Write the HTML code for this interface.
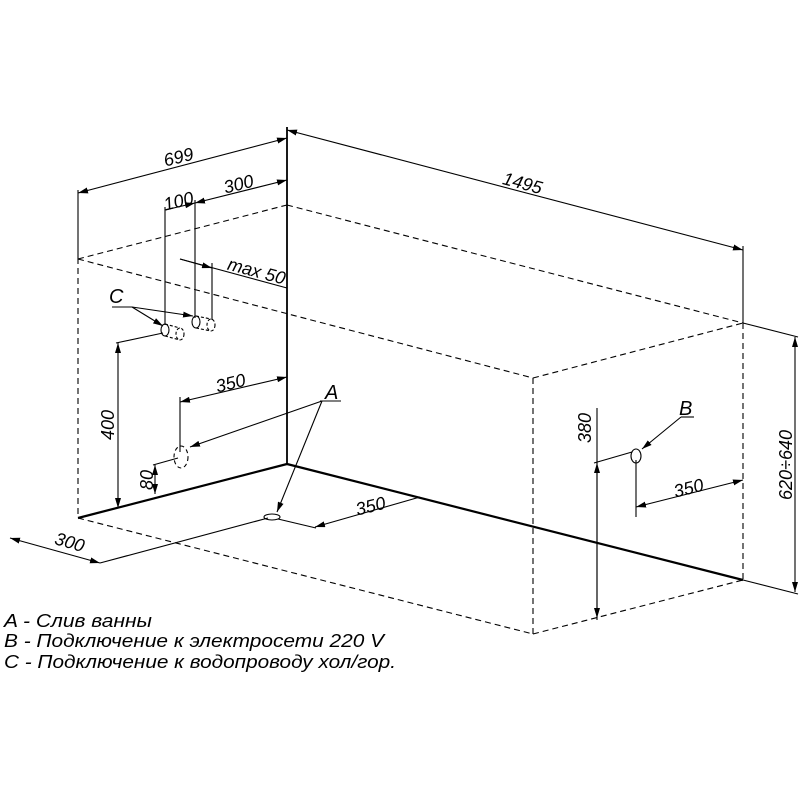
<!DOCTYPE html>
<html><head><meta charset="utf-8"><style>
html,body{margin:0;padding:0;background:#fff;}
svg{display:block;}
text{font-family:"Liberation Sans",sans-serif;font-style:italic;fill:#000;}
</style></head><body>
<svg width="800" height="800" viewBox="0 0 800 800" xmlns="http://www.w3.org/2000/svg">
<defs>
<marker id="a" viewBox="0 0 10 6" refX="10" refY="3" markerWidth="10" markerHeight="6" markerUnits="userSpaceOnUse" orient="auto-start-reverse"><path d="M0,0 L10,3 L0,6 z" fill="#000"/></marker>
</defs>
<g stroke="#000" fill="none" stroke-width="1.1">
<line x1="287" y1="127" x2="287" y2="464" stroke-width="1.8"/>
<line x1="78" y1="518" x2="287" y2="464" stroke-width="2.2"/>
<line x1="287" y1="464" x2="743" y2="580" stroke-width="2.2"/>
<line x1="743" y1="580" x2="798" y2="594"/>
<line x1="743" y1="323" x2="798" y2="337"/>
<line x1="78" y1="190" x2="78" y2="258"/>
<line x1="743" y1="246" x2="743" y2="323"/>
<g stroke-dasharray="6,4">
<line x1="78" y1="258" x2="78" y2="518"/>
<line x1="78" y1="259" x2="287" y2="205"/>
<line x1="287" y1="205" x2="743" y2="323"/>
<line x1="78" y1="259" x2="533" y2="378"/>
<line x1="533" y1="378" x2="743" y2="323"/>
<line x1="533" y1="378" x2="533" y2="634"/>
<line x1="533" y1="634" x2="743" y2="580"/>
<line x1="78" y1="518" x2="533" y2="634"/>
<line x1="743" y1="323" x2="743" y2="580"/>
</g>
<line x1="287" y1="130" x2="743" y2="250" marker-start="url(#a)" marker-end="url(#a)"/>
<line x1="78" y1="193" x2="287" y2="138" marker-start="url(#a)" marker-end="url(#a)"/>
<line x1="195" y1="203" x2="287" y2="180" marker-start="url(#a)" marker-end="url(#a)"/>
<line x1="165" y1="210" x2="195" y2="203" marker-end="url(#a)"/>
<line x1="165" y1="207" x2="165" y2="325"/>
<line x1="195" y1="200" x2="195" y2="318"/>
<line x1="212" y1="263" x2="212" y2="320"/>
<line x1="180" y1="259" x2="287" y2="288"/>
<line x1="180" y1="259" x2="212" y2="268" marker-end="url(#a)"/>
<line x1="112" y1="307" x2="132" y2="307"/>
<line x1="132" y1="307" x2="163" y2="326" marker-end="url(#a)"/>
<line x1="132" y1="307" x2="193" y2="316" marker-end="url(#a)"/>
<ellipse cx="165" cy="330" rx="4" ry="6"/>
<ellipse cx="180" cy="334" rx="4" ry="6" stroke-dasharray="3,2"/>
<line x1="165" y1="324" x2="180" y2="328" stroke-dasharray="3,2"/>
<line x1="165" y1="336" x2="180" y2="340" stroke-dasharray="3,2"/>
<ellipse cx="196" cy="322" rx="4" ry="6"/>
<ellipse cx="211" cy="325" rx="4" ry="6" stroke-dasharray="3,2"/>
<line x1="196" y1="316" x2="211" y2="319" stroke-dasharray="3,2"/>
<line x1="196" y1="328" x2="211" y2="331" stroke-dasharray="3,2"/>
<line x1="116" y1="343" x2="163" y2="333"/>
<line x1="118" y1="343" x2="118" y2="508" marker-start="url(#a)" marker-end="url(#a)"/>
<line x1="180" y1="402" x2="287" y2="377" marker-start="url(#a)" marker-end="url(#a)"/>
<line x1="180" y1="397" x2="180" y2="452"/>
<ellipse cx="181" cy="457" rx="7" ry="11" stroke-dasharray="4,3"/>
<line x1="153" y1="465" x2="178" y2="458"/>
<line x1="155" y1="465" x2="155" y2="494" marker-start="url(#a)" marker-end="url(#a)"/>
<line x1="320" y1="401" x2="341" y2="401"/>
<line x1="322" y1="401" x2="190" y2="447" marker-end="url(#a)"/>
<line x1="322" y1="401" x2="277" y2="512" marker-end="url(#a)"/>
<ellipse cx="272" cy="517" rx="8" ry="3"/>
<line x1="278" y1="519" x2="316" y2="528"/>
<line x1="315" y1="527" x2="420" y2="497" marker-start="url(#a)"/>
<line x1="100" y1="563" x2="268" y2="518"/>
<line x1="10" y1="538" x2="100" y2="563" marker-start="url(#a)" marker-end="url(#a)"/>
<ellipse cx="636" cy="456" rx="5" ry="7"/>
<line x1="681" y1="417" x2="694" y2="417"/>
<line x1="681" y1="417" x2="642" y2="449" marker-end="url(#a)"/>
<line x1="597" y1="408" x2="597" y2="620"/>
<line x1="597" y1="463" x2="597" y2="618" marker-start="url(#a)" marker-end="url(#a)"/>
<line x1="594" y1="463" x2="632" y2="452"/>
<line x1="636" y1="460" x2="636" y2="517"/>
<line x1="636" y1="507" x2="743" y2="480" marker-start="url(#a)" marker-end="url(#a)"/>
<line x1="795" y1="337" x2="795" y2="592" marker-start="url(#a)" marker-end="url(#a)"/>
</g>
<g font-size="18">
<text transform="translate(521,189) rotate(15)" text-anchor="middle">1495</text>
<text transform="translate(180,163) rotate(-14)" text-anchor="middle">699</text>
<text transform="translate(240,190) rotate(-14)" text-anchor="middle">300</text>
<text transform="translate(180,207) rotate(-14)" text-anchor="middle">100</text>
<text transform="translate(255,277) rotate(15)" text-anchor="middle">max  50</text>
<text transform="translate(232,389) rotate(-14)" text-anchor="middle">350</text>
<text transform="translate(372,512) rotate(-14)" text-anchor="middle">350</text>
<text transform="translate(68,548) rotate(16)" text-anchor="middle">300</text>
<text transform="translate(690,494) rotate(-14)" text-anchor="middle">350</text>
<text transform="translate(114,425) rotate(-90)" text-anchor="middle">400</text>
<text transform="translate(153,480) rotate(-90)" text-anchor="middle">80</text>
<text transform="translate(591,428) rotate(-90)" text-anchor="middle">380</text>
<text transform="translate(792,465) rotate(-90)" text-anchor="middle">620÷640</text>
<text x="109" y="303" font-size="20">C</text>
<text x="325" y="399" font-size="20">A</text>
<text x="679" y="415" font-size="20">B</text>
</g>
<g font-size="18">
<text x="4" y="627" textLength="148" lengthAdjust="spacingAndGlyphs">A - Слив ванны</text>
<text x="4" y="647" textLength="380" lengthAdjust="spacingAndGlyphs">B - Подключение к электросети 220 V</text>
<text x="4" y="668" textLength="392" lengthAdjust="spacingAndGlyphs">C - Подключение к водопроводу хол/гор.</text>
</g>
</svg>
</body></html>
